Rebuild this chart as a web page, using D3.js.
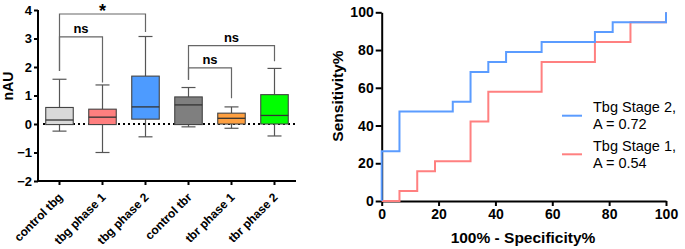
<!DOCTYPE html>
<html><head><meta charset="utf-8">
<script src="https://cdn.jsdelivr.net/npm/d3@7"></script>
<style>body{margin:0;background:#fff;} svg{display:block;font-family:"Liberation Sans",Arial,sans-serif;}</style>
</head><body>
<svg id="c" width="685" height="249"></svg>
<script>
// ---- Box plot data ----
const categories = ["control tbg","tbg phase 1","tbg phase 2","control tbr","tbr phase 1","tbr phase 2"];
const whiskerMin = [-0.25,-1.0,-0.45,-0.1,-0.15,-0.42];
const q1 = [-0.02,-0.02,0.17,-0.02,0.0,0.0];
const medians = [0.14,0.24,0.6,0.67,0.2,0.3];
const q3 = [0.58,0.52,1.68,0.95,0.38,1.03];
const whiskerMax = [1.57,1.37,3.07,1.28,0.6,1.95];
const boxColors = ["#d9d9d9","#ff7f7f","#4d9bff","#7f7f7f","#ffa040","#00ff00"];
const yTicksL = [-2,-1,0,1,2,3,4];
// significance brackets
const brFrom = ["control tbg","control tbg","control tbr","control tbr"];
const brTo = ["tbg phase 2","tbg phase 1","tbr phase 2","tbr phase 1"];
const brLabel = ["*","ns","ns","ns"];
const brTop = [3.86,3.06,2.75,1.97];
const brLeftEnd = [1.86,1.86,1.55,1.55];
const brRightEnd = [3.23,1.46,2.2,0.9];

// ---- ROC data ----
const stage2Fpr = [0,0,6.25,25,31.25,37.5,43.75,56.25,75,81.25,100];
const stage2Tpr = [0,26.3,47.4,52.6,68.4,73.7,78.9,84.2,89.5,94.7,100];
const stage1Fpr = [0,6.25,12.5,18.75,31.25,37.5,56.25,75,87.5,100];
const stage1Tpr = [0,5.3,15.8,21.1,42.1,57.9,73.7,84.2,94.7,100];
const rocTicks = [0,20,40,60,80,100];
const legendNames = ["Tbg Stage 2,","Tbg Stage 1,"];
const legendAuc = ["A = 0.72","A = 0.54"];
const rocColors = ["#5b9cff","#ff8080"];

const svg = d3.select("#c");

// ===== Left: box plot =====
const xL = d3.scaleBand().domain(categories).range([38,296]).paddingInner(0.36).paddingOuter(0.18);
const yL = d3.scaleLinear().domain([-2,4]).range([181,10]);
const gL = svg.append("g");

gL.append("line").attr("x1",43).attr("x2",296).attr("y1",yL(0)).attr("y2",yL(0))
  .attr("stroke","#000").attr("stroke-width",2).attr("stroke-dasharray","2,3");

const bw = xL.bandwidth();
categories.forEach((c,i)=>{
  const cx = xL(c)+bw/2;
  const g = gL.append("g");
  g.append("line").attr("x1",cx).attr("x2",cx).attr("y1",yL(whiskerMax[i])).attr("y2",yL(q3[i])).attr("stroke","#555").attr("stroke-width",1.2);
  g.append("line").attr("x1",cx).attr("x2",cx).attr("y1",yL(q1[i])).attr("y2",yL(whiskerMin[i])).attr("stroke","#555").attr("stroke-width",1.2);
  g.append("line").attr("x1",cx-7).attr("x2",cx+7).attr("y1",yL(whiskerMax[i])).attr("y2",yL(whiskerMax[i])).attr("stroke","#555").attr("stroke-width",1.2);
  g.append("line").attr("x1",cx-7).attr("x2",cx+7).attr("y1",yL(whiskerMin[i])).attr("y2",yL(whiskerMin[i])).attr("stroke","#555").attr("stroke-width",1.2);
  g.append("rect").attr("x",xL(c)).attr("width",bw).attr("y",yL(q3[i])).attr("height",yL(q1[i])-yL(q3[i]))
    .attr("fill",boxColors[i]).attr("stroke","#444").attr("stroke-width",1.1);
  g.append("line").attr("x1",xL(c)).attr("x2",xL(c)+bw).attr("y1",yL(medians[i])).attr("y2",yL(medians[i])).attr("stroke","#333").attr("stroke-width",1.3);
});

const axL = gL.append("g").attr("transform","translate(38,0)")
  .call(d3.axisLeft(yL).tickValues(yTicksL).tickFormat(d3.format("d")).tickSize(4).tickPadding(2));
const axB = gL.append("g").attr("transform","translate(0,181)")
  .call(d3.axisBottom(xL).tickSize(4).tickSizeOuter(0).tickFormat(""));
[axL,axB].forEach(a=>{
  a.select(".domain").attr("stroke","#000").attr("stroke-width",2);
  a.selectAll(".tick line").attr("stroke","#000").attr("stroke-width",2);
});
axL.select(".domain").attr("d","M0,10V181");
axL.selectAll(".tick text").attr("font-size",13).attr("font-weight","bold").attr("fill","#000").attr("font-family","Liberation Sans, Arial");
axB.select(".domain").attr("d","M38,0H296");

categories.forEach(c=>{
  const cx = xL(c)+bw/2;
  gL.append("text").attr("transform",`translate(${cx+4},${198}) rotate(-45)`)
    .attr("text-anchor","end").attr("font-size",12).attr("font-weight","bold").text(c);
});

gL.append("text").attr("transform","translate(13,86) rotate(-90)").attr("text-anchor","middle")
  .attr("font-size",14).attr("font-weight","bold").text("nAU");

brLabel.forEach((lab,i)=>{
  const x1 = xL(brFrom[i])+bw/2, x2 = xL(brTo[i])+bw/2, yt = yL(brTop[i]);
  gL.append("path").attr("d",`M${x1},${yL(brLeftEnd[i])}V${yt}H${x2}V${yL(brRightEnd[i])}`)
    .attr("fill","none").attr("stroke","#666").attr("stroke-width",1.2);
  gL.append("text").attr("x",(x1+x2)/2).attr("y", lab==="*" ? yt+3 : yt-4)
    .attr("text-anchor","middle").attr("font-size",lab==="*"?18:13).attr("font-weight","bold").text(lab);
});

// ===== Right: ROC =====
const xR = d3.scaleLinear().domain([0,100]).range([381.7,666]);
const yR = d3.scaleLinear().domain([0,100]).range([201,12.3]);
const gR = svg.append("g");
const axRY = gR.append("g").attr("transform","translate(381.7,0)")
  .call(d3.axisLeft(yR).tickValues(rocTicks).tickSize(6).tickPadding(2).tickSizeOuter(0));
const axRX = gR.append("g").attr("transform","translate(0,201)")
  .call(d3.axisBottom(xR).tickValues(rocTicks).tickSize(5).tickPadding(3).tickSizeOuter(0));
[axRY,axRX].forEach(a=>{
  a.select(".domain").attr("stroke","#000").attr("stroke-width",2);
  a.selectAll(".tick line").attr("stroke","#000").attr("stroke-width",2);
  a.selectAll(".tick text").attr("font-size",14).attr("font-weight","bold").attr("fill","#000").attr("font-family","Liberation Sans, Arial");
});

const line = d3.line().x(d=>xR(d[0])).y(d=>yR(d[1])).curve(d3.curveStepAfter);
gR.append("path").datum(stage1Fpr.map((f,i)=>[f,stage1Tpr[i]])).attr("d",line)
  .attr("fill","none").attr("stroke",rocColors[1]).attr("stroke-width",2);
gR.append("path").datum(stage2Fpr.map((f,i)=>[f,stage2Tpr[i]])).attr("d",line)
  .attr("fill","none").attr("stroke",rocColors[0]).attr("stroke-width",2);

gR.append("text").attr("x",523).attr("y",243).attr("text-anchor","middle")
  .attr("font-size",15.5).attr("font-weight","bold").text("100% - Specificity%");
gR.append("text").attr("transform","translate(343,96) rotate(-90)").attr("text-anchor","middle")
  .attr("font-size",15.5).attr("font-weight","bold").text("Sensitivity%");

const legY = [112, 150.5];
const legLineY = [115.7, 154.3];
legendNames.forEach((n,i)=>{
  gR.append("line").attr("x1",562).attr("x2",582).attr("y1",legLineY[i]).attr("y2",legLineY[i])
    .attr("stroke",rocColors[i]).attr("stroke-width",2);
  gR.append("text").attr("x",593).attr("y",legY[i]).attr("font-size",14.5).text(n);
  gR.append("text").attr("x",593).attr("y",legY[i]+17).attr("font-size",14.5).text(legendAuc[i]);
});
</script>
</body></html>
